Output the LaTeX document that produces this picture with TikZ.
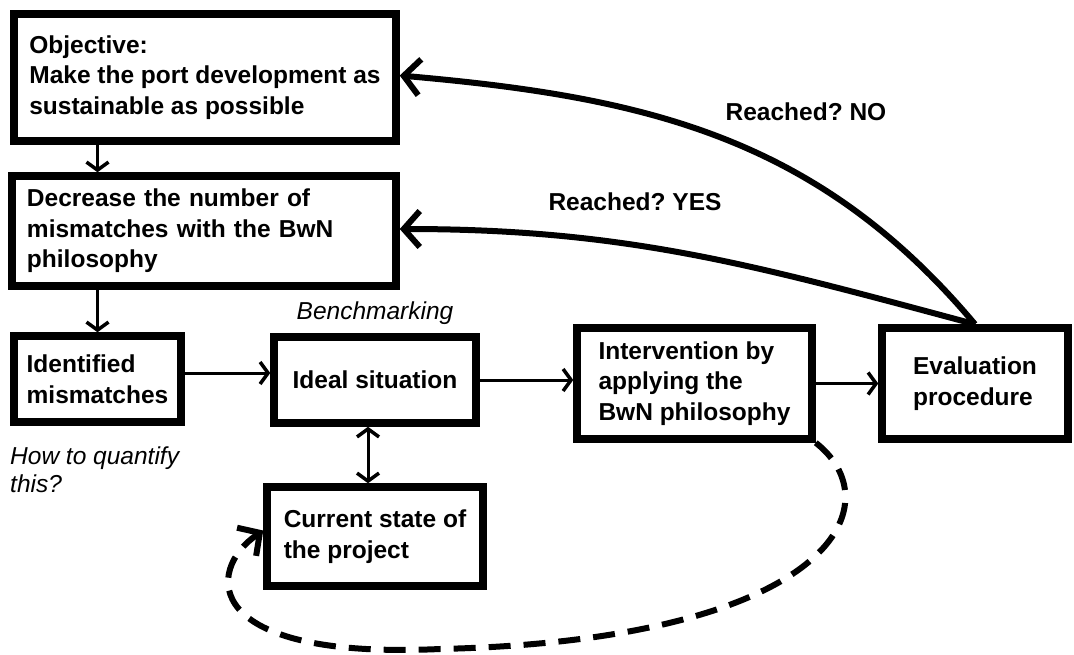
\documentclass[tikz,border=0pt]{standalone}
\usepackage{fontspec}
\setmainfont{Liberation Sans}
\usepackage{tikz}
\usetikzlibrary{arrows.meta, positioning, calc}
\frenchspacing
\tikzset{
	box/.style     ={rectangle, draw=black, line width=7.5pt, align=left, inner sep=2pt, font=\fontsize{24.5}{30.5}\selectfont\bfseries},
	flowarrow/.style={-{Straight Barb[length=8pt, width=22pt, line width=3.5pt]}, line width=3pt},
	backarrow/.style={-{Straight Barb[length=16pt, width=36pt]}, line width=6pt},
	loopback/.style={-{Straight Barb[length=16pt, width=34pt]}, line width=6pt, dash pattern=on 22pt off 13pt},
	remark/.style  ={font=\fontsize{24.5}{28}\selectfont\itshape, inner sep=0pt, align=left},
	answer/.style  ={font=\fontsize{24.5}{30.5}\selectfont\bfseries, inner sep=0pt},
}
\begin{document}
\begin{tikzpicture}[x=1pt, y=1pt]
	\useasboundingbox (0,0) rectangle (1074,-654);
	% boxes
	\node[box, minimum width=382pt, minimum height=127pt] (obj) at (205,-77.5) {Objective:\\Make the port development as\\sustainable as possible};
	\node[box, text width=354pt, inner xsep=15pt, minimum height=110pt] (dec) at (204,-231) {Decrease the number of\\mismatches with the BwN\\philosophy};
	\node[box, minimum width=167pt, minimum height=86pt] (idm) at (97.5,-379) {Identified\\mismatches};
	\node[box, minimum width=202pt, minimum height=86pt] (ideal) at (375,-380) {Ideal situation};
	\node[box, minimum width=216pt, minimum height=99pt] (cur) at (375,-536.5) {Current state of\\the project};
	\node[box, minimum width=235pt, minimum height=111pt] (interv) at (694.5,-383.5) {Intervention by\\applying the\\BwN philosophy};
	\node[box, minimum width=186pt, minimum height=111pt] (evalp) at (975,-383.5) {Evaluation\\procedure};
	% remarks
	\node[remark] (bench) at (375,-313) {Benchmarking};
	\node[remark, anchor=north west] (howq) at (10,-447) {How to quantify\\this?};
	\node[answer] (no) at (806,-112) {Reached? NO};
	\node[answer] (yes) at (635,-202) {Reached? YES};
	% connectors
	\draw[flowarrow] (obj.south -| idm) -- (dec.north -| idm);
	\draw[flowarrow] (dec.south -| idm) -- (idm.north);
	\draw[flowarrow] ([yshift=6pt]idm.east) -- ([yshift=6pt]idm.east -| ideal.west);
	\draw[flowarrow] (ideal.east) -- (ideal.east -| interv.west);
	\draw[flowarrow] (interv.east) -- (interv.east -| evalp.west);
	\draw[flowarrow, {Straight Barb[length=8pt, width=22pt, line width=3.5pt]}-{Straight Barb[length=8pt, width=22pt, line width=3.5pt]}] ([xshift=-7pt]ideal.south) -- ([xshift=-7pt]cur.north);
	\draw[backarrow] (evalp.north) to[out=130, in=-5] ([yshift=2pt]obj.east);
	\draw[backarrow] (evalp.north) to[out=165, in=0] ([yshift=2pt]dec.east);
	\coordinate (loopbot) at (440,-649);
	\draw[loopback] (interv.south east) .. controls (895,-505) and (830,-640) .. (loopbot) .. controls (200,-660) and (205,-570) .. ([yshift=6pt]cur.west);
\end{tikzpicture}
\end{document}
